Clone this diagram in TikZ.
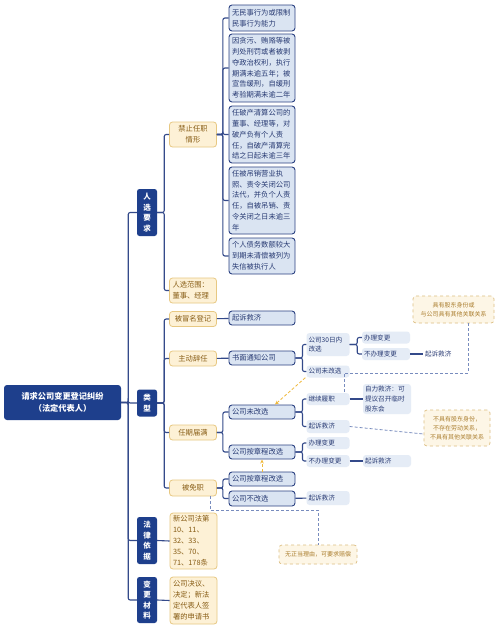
\documentclass[tikz,border=0pt]{standalone}
\usepackage{fontspec}
\setmainfont{Noto Sans CJK SC}
\usetikzlibrary{arrows.meta, positioning}

\definecolor{navy}{RGB}{30,63,140}
\definecolor{linec}{RGB}{52,74,138}
\definecolor{itemfill}{RGB}{218,228,242}
\definecolor{itemdraw}{RGB}{44,66,130}
\definecolor{itemtext}{RGB}{40,58,115}
\definecolor{leaffill}{RGB}{229,236,246}
\definecolor{subfill}{RGB}{253,241,214}
\definecolor{subdraw}{RGB}{231,200,130}
\definecolor{subtext}{RGB}{135,92,20}
\definecolor{notefill}{RGB}{253,246,230}
\definecolor{notedraw}{RGB}{220,190,130}
\definecolor{notetext}{RGB}{170,125,45}
\definecolor{hintc}{RGB}{120,140,190}
\definecolor{jumpc}{RGB}{240,185,60}

\begin{document}
\begin{tikzpicture}[
        x=1pt, y=-1pt,
        root/.style={rectangle, fill=navy, text=white, rounded corners=3pt, minimum width=117pt, minimum height=35pt, align=center, inner sep=0pt, font=\fontsize{8.2}{11.7}\selectfont\bfseries},
        kind/.style={rectangle, fill=navy, text=white, rounded corners=2.5pt, minimum width=20pt, align=center, inner sep=0pt, font=\fontsize{7.5}{10.5}\selectfont\bfseries},
        sub/.style={rectangle, draw=subdraw, line width=0.8pt, fill=subfill, text=subtext, rounded corners=3pt, text width=41pt, minimum height=15pt, inner xsep=3pt, inner ysep=1.5pt, align=left, font=\fontsize{7.3}{11}\selectfont},
        item/.style={rectangle, draw=itemdraw, line width=0.9pt, fill=itemfill, text=itemtext, rounded corners=3pt, text width=60pt, minimum height=14pt, inner xsep=3pt, inner ysep=1pt, align=left, font=\fontsize{7.3}{10.8}\selectfont},
        leaf/.style={rectangle, fill=leaffill, text=itemtext, rounded corners=3pt, text width=39pt, minimum height=12pt, inner xsep=2pt, inner ysep=0.5pt, align=left, font=\fontsize{6.6}{9.6}\selectfont},
        leafw/.style={leaf, text width=44pt},
        note/.style={rectangle, draw=notedraw, dashed, line width=0.7pt, fill=notefill, text=notetext, rounded corners=3pt, align=center, inner sep=1pt, font=\fontsize{6}{9}\selectfont},
        link/.style={draw=linec, line width=1.1pt, rounded corners=2pt},
        hint/.style={draw=hintc, line width=0.8pt, dash pattern=on 3pt off 2pt},
        jump/.style={draw=jumpc, line width=0.8pt, dash pattern=on 3pt off 2pt, -{Stealth[length=4pt, width=3.5pt]}}
    ]
        \path[fill=white] (0,0) rectangle (500,629);

        % Root and categories
        \node[root] (claim) at (62.5,402.5) {请求公司变更登记纠纷\\（法定代表人）};
        \node[kind, minimum height=47pt] (req) at (147,212.5) {人\\选\\要\\求};
        \node[kind, minimum height=27pt] (type) at (147,403) {类\\型};
        \node[kind, minimum height=47pt] (law) at (147,540.5) {法\\律\\依\\据};
        \node[kind, minimum height=46pt] (mat) at (147,600) {变\\更\\材\\料};

        % Second level
        \node[sub, align=center, minimum height=25pt] (ban) at (193,134.5) {禁止任职\\情形};
        \node[sub, minimum height=25pt] (scope) at (193,290.5) {人选范围：\\董事、经理};
        \node[sub, align=center] (fake) at (193,319) {被冒名登记};
        \node[sub, align=center] (quit) at (193,358.5) {主动辞任};
        \node[sub, align=center] (expire) at (193,432.5) {任期届满};
        \node[sub, align=center, minimum height=16pt] (fire) at (193,488) {被免职};
        \node[sub, minimum height=56pt] (lawtxt) at (193.5,541) {新公司法第\\10、11、\\32、33、\\35、70、\\71、178条};
        \node[sub, minimum height=47pt] (mattxt) at (193.5,600.5) {公司决议、\\决定；新法\\定代表人签\\署的申请书};

        % Banned cases
        \node[item, minimum height=26pt] (b1) at (262,18) {无民事行为或限制\\民事行为能力};
        \node[item, minimum height=68pt] (b2) at (262,68) {因贪污、贿赂等被\\判处刑罚或者被剥\\夺政治权利，执行\\期满未逾五年；被\\宣告缓刑，自缓刑\\考验期满未逾二年};
        \node[item, minimum height=57pt] (b3) at (262,134.5) {任破产清算公司的\\董事、经理等，对\\破产负有个人责\\任，自破产清算完\\结之日起未逾三年};
        \node[item, minimum height=67pt] (b4) at (262,200.5) {任被吊销营业执\\照、责令关闭公司\\法代，并负个人责\\任，自被吊销、责\\令关闭之日未逾三\\年};
        \node[item, minimum height=36pt] (b5) at (262,256) {个人债务数额较大\\到期未清偿被列为\\失信被执行人};

        % Types
        \node[item] (sue1) at (262,318) {起诉救济};
        \node[item] (notify) at (262,358) {书面通知公司};
        \node[item] (unch) at (262,412) {公司未改选};
        \node[item] (rel1) at (262,452) {公司按章程改选};
        \node[item] (rel2) at (262,479) {公司按章程改选};
        \node[item, minimum height=15pt] (nochg) at (262,498.5) {公司不改选};

        \node[leaf, minimum height=23pt] (in30) at (328,344.5) {公司30日内\\改选};
        \node[leaf] (ns) at (328,371.5) {公司未改选};
        \node[leaf] (keep) at (328,399) {继续履职};
        \node[leaf, minimum height=13pt] (sue2) at (328,426.5) {起诉救济};
        \node[leaf] (do2) at (328,443) {办理变更};
        \node[leaf] (not2) at (328,461) {不办理变更};
        \node[leaf, minimum height=14pt] (sue4) at (328,498) {起诉救济};

        \node[leafw] (do1) at (386,337.5) {办理变更};
        \node[leafw] (not1) at (386,354) {不办理变更};
        \node[leafw, fill=none] (sue3) at (447,354) {起诉救济};
        \node[leafw, minimum height=30pt] (self) at (387,399) {自力救济：可\\提议召开临时\\股东会};
        \node[leafw] (sue5) at (387,461) {起诉救济};

        % Notes
        \node[note, minimum width=81pt, minimum height=27pt] (n1) at (453.5,309.5) {具有股东身份或\\与公司具有其他关联关系};
        \node[note, minimum width=66pt, minimum height=36pt] (n2) at (457,428) {不具有股东身份，\\不存在劳动关系，\\不具有其他关联关系};
        \node[note, minimum width=78pt, minimum height=19pt] (n3) at (318,554.5) {无正当理由，可要求赔偿};

        % Brackets
        \foreach \k in {req,type,law,mat} \draw[link] (claim.east) -- ++(7,0) |- (\k.west);
        \foreach \k in {ban,scope} \draw[link] (req.east) -- ++(7,0) |- (\k.west);
        \foreach \k in {b1,b2,b3,b4,b5} \draw[link] (ban.east) -- ++(6,0) |- (\k.west);
        \foreach \k in {fake,quit,expire,fire} \draw[link] (type.east) -- ++(7,0) |- (\k.west);
        \draw[link] (law.east) -- (lawtxt.west);
        \draw[link] (mat.east) -- (mattxt.west);
        \draw[link] (fake) -- (sue1);
        \draw[link] (quit) -- (notify);
        \foreach \k in {in30,ns} \draw[link] (notify.east) -- ++(7,0) |- (\k.west);
        \foreach \k in {do1,not1} \draw[link] (in30.east) -- ++(7.5,0) |- (\k.west);
        \draw[link] (not1) -- (sue3);
        \foreach \k in {unch,rel1} \draw[link] (expire.east) -- ++(6,0) |- (\k.west);
        \foreach \k in {keep,sue2} \draw[link] (unch.east) -- ++(7,0) |- (\k.west);
        \draw[link] (keep) -- (self);
        \foreach \k in {do2,not2} \draw[link] (rel1.east) -- ++(7,0) |- (\k.west);
        \draw[link] (not2) -- (sue5);
        \foreach \k in {rel2,nochg} \draw[link] (fire.east) -- ++(6,0) |- (\k.west);
        \draw[link] (nochg) -- (sue4);

        % Dashed hints
        \coordinate (turn1) at (344,373);
        \coordinate (turn2) at (318,510);
        \draw[hint] ([xshift=14.5pt]n1.south) |- (turn1) -- (turn1 |- keep.north);
        \draw[hint] (sue2.east) -- ([yshift=-6pt]n2.west);
        \draw[hint] ([xshift=17pt]fire.south) |- (turn2) -- (n3.north);
        \draw[jump] ([xshift=-1pt]ns.south west) -- ([xshift=13pt]unch.north);
        \draw[jump] (rel2.north) -- (rel1.south);
    \end{tikzpicture}
\end{document}
